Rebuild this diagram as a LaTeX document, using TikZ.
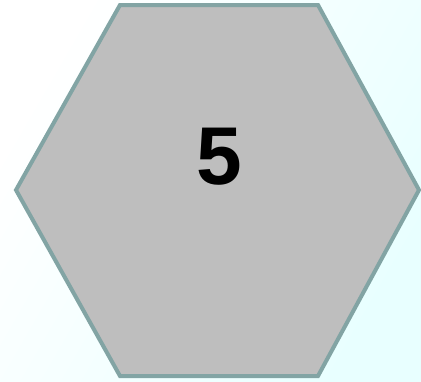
\documentclass[tikz,border=0pt]{standalone}
\usepackage{fontspec}
\setmainfont{Liberation Sans}
\usetikzlibrary{positioning, calc}
\definecolor{clrBg}  {RGB}{232,255,255}
\definecolor{clrHex} {RGB}{190,190,190}
\definecolor{clrHexBd}{RGB}{130,164,164}

\begin{document}
\begin{tikzpicture}[
  x=1pt, y=-1pt,
  %% ── styles ───────────────────────────────────────────────────────────────
  hexface/.style = {draw=clrHexBd, fill=clrHex, line width=4pt,
                    line join=miter},
  numlab/.style  = {font=\fontsize{82}{82}\selectfont\bfseries,
                    text=black, inner sep=0pt},
]

%% ── background ────────────────────────────────────────────────────────────
\shade[left color=white, right color=clrBg, shading angle=60]
  (0,0) rectangle (421,381);
\useasboundingbox (0,0) rectangle (421,381);

%% ── hexagon corners ───────────────────────────────────────────────────────
\coordinate (tl) at (120,5);
\coordinate (tr) at (318,5);
\coordinate (rr) at (419,190);
\coordinate (br) at (318,376);
\coordinate (bl) at (120,376);
\coordinate (ll) at (16,190);

\draw[hexface] (tl) -- (tr) -- (rr) -- (br) -- (bl) -- (ll) -- cycle;

%% ── number ────────────────────────────────────────────────────────────────
\node[numlab] (num) at (219,157) {5};

\end{tikzpicture}
\end{document}
